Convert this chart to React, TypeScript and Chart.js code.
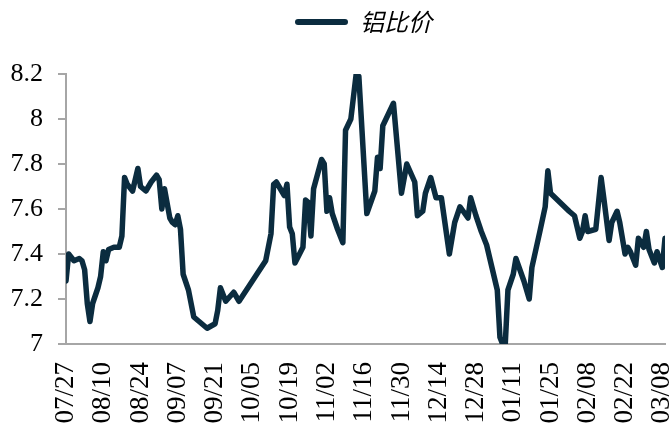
import React, { useEffect, useRef } from "react";
import { Chart, registerables } from "chart.js";

Chart.register(...registerables);

// x tick labels, one every 14 days starting 07/27
const tickLabels = [
  "07/27", "08/10", "08/24", "09/07", "09/21", "10/05", "10/19", "11/02", "11/16",
  "11/30", "12/14", "12/28", "01/11", "01/25", "02/08", "02/22", "03/08",
];

// days since 07/27 for each observation
const dayOffsets = [
  0, 1, 3, 5, 6, 7, 8, 9, 10, 12,
  13, 14, 15, 16, 18, 20, 21, 22, 23, 25,
  27, 28, 30, 32, 34, 35, 36, 37, 39, 40,
  41, 42, 43, 44, 46, 48, 50, 53, 56, 57,
  58, 60, 63, 65, 75, 77, 78, 79, 81, 82,
  83, 84, 85, 86, 89, 90, 91, 92, 93, 96,
  97, 98, 99, 100, 102, 104, 105, 107, 109, 110,
  113, 116, 117, 118, 119, 121, 123, 126, 128, 131,
  132, 134, 135, 137, 139, 141, 144, 146, 148, 151,
  152, 154, 156, 158, 160, 162, 163, 164, 165, 166,
  168, 169, 172, 174, 175, 178, 180, 181, 182, 189,
  191, 193, 194, 195, 196, 199, 201, 202, 204, 205,
  207, 208, 210, 211, 212, 214, 215, 217, 218, 219,
  221, 222, 224, 225,
];

// 铝比价 values
const ratioValues = [
  7.28, 7.40, 7.37, 7.38, 7.37, 7.33, 7.18, 7.10, 7.18, 7.25,
  7.30, 7.41, 7.37, 7.42, 7.43, 7.43, 7.48, 7.74, 7.71, 7.68,
  7.78, 7.70, 7.68, 7.72, 7.75, 7.73, 7.60, 7.69, 7.56, 7.54,
  7.53, 7.57, 7.51, 7.31, 7.24, 7.12, 7.10, 7.07, 7.09, 7.15,
  7.25, 7.19, 7.23, 7.19, 7.37, 7.49, 7.71, 7.72, 7.68, 7.66,
  7.71, 7.52, 7.49, 7.36, 7.43, 7.64, 7.63, 7.48, 7.69, 7.82,
  7.80, 7.59, 7.65, 7.58, 7.51, 7.45, 7.95, 8.00, 8.20, 8.19,
  7.58, 7.68, 7.83, 7.78, 7.97, 8.02, 8.07, 7.67, 7.80, 7.72,
  7.57, 7.59, 7.67, 7.74, 7.65, 7.65, 7.40, 7.54, 7.61, 7.56,
  7.65, 7.57, 7.50, 7.44, 7.34, 7.24, 7.03, 7.00, 7.00, 7.24,
  7.31, 7.38, 7.28, 7.20, 7.34, 7.50, 7.61, 7.77, 7.67, 7.59,
  7.57, 7.47, 7.50, 7.57, 7.50, 7.51, 7.74, 7.65, 7.46, 7.54,
  7.59, 7.54, 7.40, 7.43, 7.41, 7.35, 7.47, 7.43, 7.50, 7.42,
  7.36, 7.41, 7.34, 7.47,
];

const seriesName = "铝比价";
const lineColor = "#0b2c3f";
const axisColor = "#a6a6a6";

export default function App() {
  const canvasRef = useRef<HTMLCanvasElement | null>(null);

  useEffect(() => {
    const canvas = canvasRef.current;
    if (!canvas) return;
    const points = dayOffsets.map((d, i) => ({ x: d, y: ratioValues[i] }));

    const layoutPlugin = {
      id: "layoutTweaks",
      beforeInit(chart: any) {
        const legend = chart.legend;
        if (legend) {
          const origFit = legend.fit;
          legend.fit = function () {
            origFit.call(this);
            this.height = 74;
          };
        }
      },
      afterLayout(chart: any) {
        if (chart.legend) chart.legend.left = 62;
      },
    };

    const chart = new Chart(canvas, {
      type: "line",
      data: {
        datasets: [
          {
            label: seriesName,
            data: points,
            borderColor: lineColor,
            backgroundColor: lineColor,
            borderWidth: 5.5,
            pointRadius: 0,
            tension: 0,
            borderJoinStyle: "round",
            borderCapStyle: "round",
          },
        ],
      },
      options: {
        responsive: false,
        animation: false,
        layout: { padding: { left: 0, right: 6, top: 0, bottom: 0 } },
        plugins: {
          tooltip: { enabled: false },
          legend: {
            display: true,
            position: "top",
            align: "center",
            labels: {
              boxWidth: 53,
              boxHeight: 6,
              useBorderRadius: true,
              padding: 10,
              color: "#000",
              font: { family: "'Noto Sans CJK SC', sans-serif", size: 24, style: "italic" },
              generateLabels: () => [
                {
                  text: seriesName,
                  fillStyle: lineColor,
                  strokeStyle: lineColor,
                  lineWidth: 0,
                  hidden: false,
                  datasetIndex: 0,
                  borderRadius: 3,
                  fontColor: "#000",
                } as any,
              ],
            },
          },
        },
        scales: {
          x: {
            type: "linear",
            min: 0,
            max: 225,
            grid: { display: true, drawOnChartArea: false, drawTicks: false },
            border: { display: true, color: axisColor, width: 2 },
            afterBuildTicks: (scale: any) => {
              scale.ticks = tickLabels.map((_, i) => ({ value: i * 14 }));
            },
            afterFit: (scale: any) => {
              scale.height = 87;
              scale.paddingLeft = 0;
              scale.paddingRight = 0;
            },
            ticks: {
              autoSkip: false,
              maxRotation: 90,
              minRotation: 90,
              padding: 18,
              color: "#000",
              font: { family: "'Liberation Serif', serif", size: 27 },
              callback: (v: any) => tickLabels[Math.round(Number(v) / 14)] ?? "",
            },
          },
          y: {
            type: "linear",
            min: 7,
            max: 8.2,
            grid: { display: true, drawOnChartArea: false, drawTicks: true, tickLength: 8, color: axisColor, lineWidth: 2 },
            border: { display: true, color: axisColor, width: 2 },
            afterFit: (scale: any) => {
              scale.width = 66;
            },
            ticks: {
              stepSize: 0.2,
              padding: 15,
              color: "#000",
              font: { family: "'Liberation Serif', serif", size: 26 },
              callback: (v: any) => String(Number(Number(v).toFixed(1))),
            },
          },
        },
      },
      plugins: [layoutPlugin],
    });

    return () => chart.destroy();
  }, []);

  return (
    <div style={{ position: "absolute", left: 0, top: 0, width: 671, height: 431, background: "#fff" }}>
      <canvas ref={canvasRef} width={671} height={431} style={{ display: "block" }} />
    </div>
  );
}
